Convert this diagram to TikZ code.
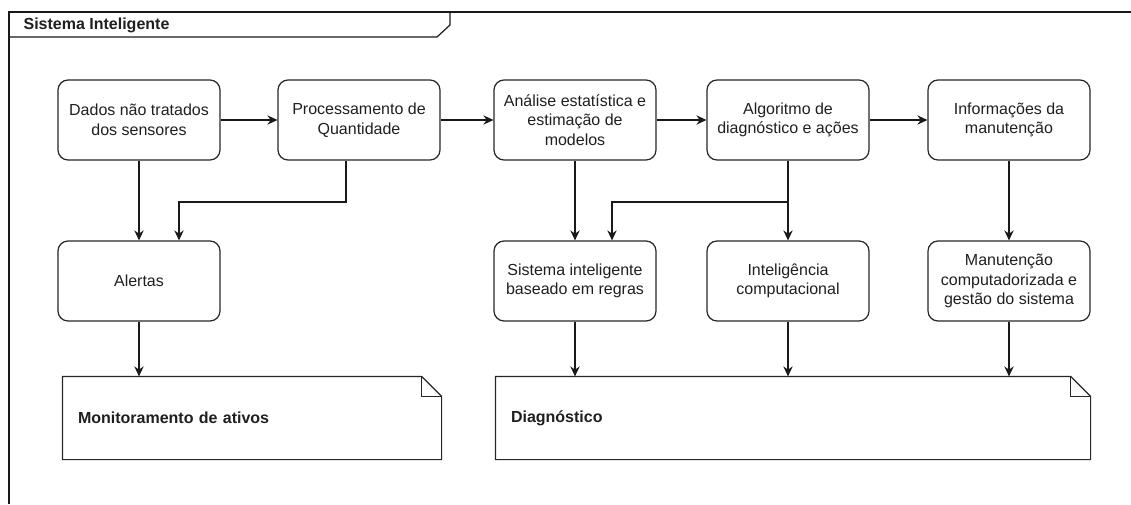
\documentclass[tikz,border=0pt]{standalone}
\usepackage{fontspec}
\setmainfont{Liberation Sans}
\usetikzlibrary{arrows.meta,calc}
\begin{document}
\begin{tikzpicture}[x=0.75pt,y=-0.75pt,
  line width=0.9pt,
  every node/.style={text=black!88},
  procbox/.style={draw=black!85, rounded corners=7.5pt, minimum width=121.5pt, minimum height=60pt,
    align=center, inner sep=0pt, font=\fontsize{12pt}{14.6pt}\selectfont},
  notebox/.style={minimum height=61.5pt, inner xsep=11.25pt, inner ysep=0pt, align=left,
    font=\fontsize{12pt}{14.6pt}\selectfont\bfseries},
  notepath/.style={draw=black!85},
  arr/.style={draw=black!90, -{Stealth[length=7.5pt,width=7pt]}},
  framepath/.style={draw=black!90}
]
\useasboundingbox (0,0) rectangle (1131,504);

% frame
\draw[framepath] (9,504) -- (9,12) -- (1131,12);
\draw[framepath] (9,37) -- (437,37) -- (450,25) -- (450,12);
\node[anchor=west, inner sep=0pt, font=\fontsize{12pt}{14pt}\selectfont\bfseries] (title) at (23,25) {Sistema Inteligente};

% row 1
\node[procbox] (d) at (139,120) {Dados não tratados\\dos sensores};
\node[procbox] (p) at (359,120) {Processamento de\\Quantidade};
\node[procbox] (a) at (575,120) {Análise estatística e\\estimação de\\modelos};
\node[procbox] (g) at (788,120) {Algoritmo de\\diagnóstico e ações};
\node[procbox] (i) at (1009,120) {Informações da\\manutenção};

% row 2
\node[procbox] (al) at (139,281) {Alertas};
\node[procbox] (s) at (575,281) {Sistema inteligente\\baseado em regras};
\node[procbox] (c) at (788,281) {Inteligência\\computacional};
\node[procbox] (m) at (1009,281) {Manutenção\\computadorizada e\\gestão do sistema};

% notes
\node[notebox, minimum width=283.5pt, text width=261pt] (n1) at (252,418) {Monitoramento de ativos};
\node[notebox, minimum width=445.5pt, text width=423pt] (n2) at (793,418) {Diagnóstico};
\foreach \n in {n1,n2}{
  \draw[notepath] (\n.north west) -- ([xshift=-15pt]\n.north east) -- ([yshift=-15pt]\n.north east)
     -- (\n.south east) -- (\n.south west) -- cycle;
  \draw[notepath] ([xshift=-15pt]\n.north east) -- ([xshift=-15pt,yshift=-15pt]\n.north east)
     -- ([yshift=-15pt]\n.north east);
}

% junction coordinates
\coordinate (j1) at (346,202);
\coordinate (k1) at (179,202);
\coordinate (j2) at (788,202);
\coordinate (k2) at (612,202);

% connectors
\draw[arr] (d) -- (p);
\draw[arr] (p) -- (a);
\draw[arr] (a) -- (g);
\draw[arr] (g) -- (i);
\draw[arr] (d) -- (al);
\draw[arr] (j1 |- p.south) -- (j1) -- (k1) -- (k1 |- al.north);
\draw[arr] (a) -- (s);
\draw[arr] (g) -- (c);
\draw[arr] (j2) -- (k2) -- (k2 |- s.north);
\draw[arr] (i) -- (m);
\draw[arr] (al.south) -- (al.south |- n1.north);
\draw[arr] (s.south) -- (s.south |- n2.north);
\draw[arr] (c.south) -- (c.south |- n2.north);
\draw[arr] (m.south) -- (m.south |- n2.north);
\end{tikzpicture}
\end{document}
